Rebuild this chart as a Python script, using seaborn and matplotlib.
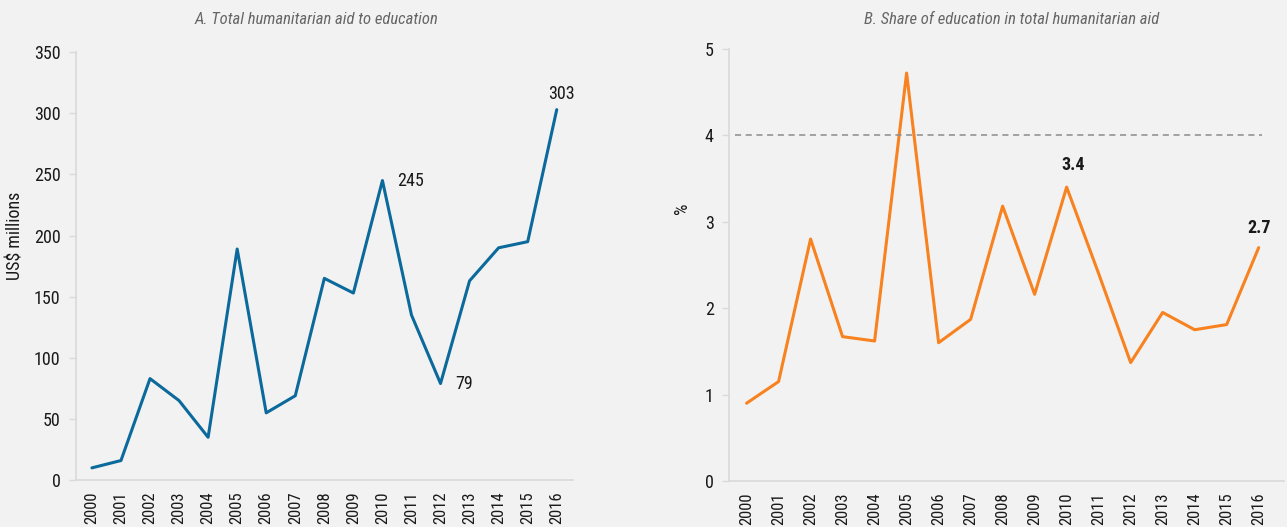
import matplotlib
matplotlib.use("Agg")
import matplotlib.pyplot as plt
from matplotlib import font_manager
import seaborn as sns
import pandas as pd

# Data
years = list(range(2000, 2017))
aid_usd_millions = [10, 16, 83, 65, 35, 189, 55, 69, 165, 153, 245, 135, 79, 163, 190, 195, 303]
edu_share_pct = [0.90, 1.15, 2.80, 1.67, 1.62, 4.72, 1.60, 1.87, 3.18, 2.16, 3.4, 2.4, 1.37, 1.95, 1.75, 1.81, 2.7]
target_share = 4

title_a = "A. Total humanitarian aid to education"
title_b = "B. Share of education in total humanitarian aid"
ylabel_a = "US$ millions"
ylabel_b = "%"

sns.set_theme(style="white")
available = {f.name for f in font_manager.fontManager.ttflist}
base_font = "DejaVu Sans"
for cand in ["Liberation Sans Narrow", "Roboto Condensed", "Open Sans Condensed", "DejaVu Sans"]:
    if cand in available:
        base_font = cand
        break
plt.rcParams["font.family"] = [base_font, "DejaVu Sans"]

BG = "#f2f2f2"
SPINE = "#d9d9d9"
BLUE = "#0b6a9b"
ORANGE = "#f7821f"
TXT = "#1a1a1a"

df = pd.DataFrame({"year": years, "aid": aid_usd_millions, "share": edu_share_pct})

fig = plt.figure(figsize=(12.87, 5.27), dpi=100, facecolor=BG)
ax1 = fig.add_axes([0.059, 0.089, 0.386, 0.812])
ax2 = fig.add_axes([0.5664, 0.0873, 0.431, 0.820])

for ax in (ax1, ax2):
    ax.set_facecolor(BG)
    for s in ("top", "right"):
        ax.spines[s].set_visible(False)
    for s in ("left", "bottom"):
        ax.spines[s].set_color(SPINE)
        ax.spines[s].set_linewidth(1.2)
    ax.tick_params(axis="y", which="major", left=True, length=5, width=1, color=SPINE,
                   labelsize=13, labelcolor=TXT, pad=6)
    ax.tick_params(axis="x", which="major", bottom=False, labelsize=12, labelcolor=TXT,
                   rotation=90, pad=2)
    ax.grid(False)

# Panel A
sns.lineplot(data=df, x="year", y="aid", ax=ax1, color=BLUE, linewidth=2.2)
ax1.set_xlim(1999.45, 2016.55)
ax1.set_ylim(0, 350)
ax1.set_yticks(range(0, 351, 50))
ax1.set_xticks(years)
ax1.set_xticklabels([str(y) for y in years])
ax1.set_xlabel("")
ax1.set_ylabel(ylabel_a, fontsize=13, color=TXT)
ax1.yaxis.set_label_coords(-0.104, 0.57)

for yr, dx, dy, ha, va in [(2010, 15, 0, "left", "center"),
                           (2012, 15, 0, "left", "center"),
                           (2016, 5, 16, "center", "center")]:
    v = aid_usd_millions[years.index(yr)]
    ax1.annotate(f"{v:g}", (yr, v), xytext=(dx, dy), textcoords="offset pixels",
                 ha=ha, va=va, fontsize=13, color=TXT)

# Panel B
sns.lineplot(data=df, x="year", y="share", ax=ax2, color=ORANGE, linewidth=2.2)
ax2.hlines(target_share, 1999.64, 2016.1, colors="#8c8c8c", linestyles=(0, (4, 3)), linewidth=1.1)
ax2.set_xlim(1999.45, 2016.78)
ax2.set_ylim(0, 5)
ax2.set_yticks(range(0, 6))
ax2.set_xticks(years)
ax2.set_xticklabels([str(y) for y in years])
ax2.set_xlabel("")
ax2.set_ylabel(ylabel_b, fontsize=13, color=TXT)
ax2.yaxis.set_label_coords(-0.068, 0.632)

for yr, dx, dy in [(2010, 6, 13), (2016, 0, 11)]:
    v = edu_share_pct[years.index(yr)]
    ax2.annotate(f"{v:g}", (yr, v), xytext=(dx, dy), textcoords="offset pixels",
                 ha="center", va="bottom", fontsize=13, fontweight="bold", color=TXT)

# Panel titles
fig.text(0.2455, 1 - 19 / 527, title_a, ha="center", va="center", fontsize=12,
         style="italic", color="#666666")
fig.text(0.786, 1 - 19 / 527, title_b, ha="center", va="center", fontsize=12,
         style="italic", color="#666666")

fig.savefig("out.png", dpi=100, facecolor=BG)
